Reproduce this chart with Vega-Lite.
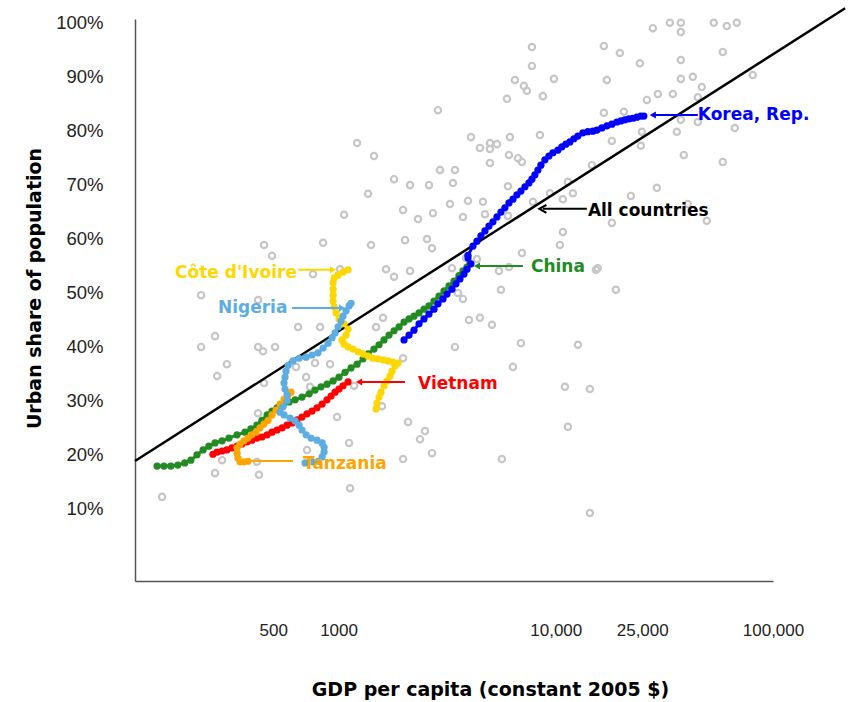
{
  "$schema": "https://vega.github.io/schema/vega-lite/v6.json",
  "width": 638,
  "height": 562,
  "autosize": {"type": "none"},
  "padding": {"left": 135, "top": 19, "right": 79, "bottom": 121},
  "background": "white",
  "config": {"view": {"stroke": null}, "font": "Liberation Sans"},
  "datasets": {
    "others": [
      {"gdp":33500,"urban":100},{"gdp":37640,"urban":100},{"gdp":27980,"urban":99.0},{"gdp":37640,"urban":98.3},
      {"gdp":53380,"urban":100},{"gdp":61270,"urban":99.4},{"gdp":68110,"urban":100},{"gdp":16650,"urban":95.7},
      {"gdp":7766,"urban":95.5},{"gdp":19724,"urban":94.4},{"gdp":58720,"urban":94.6},{"gdp":37640,"urban":93.1},
      {"gdp":24378,"urban":92.5},{"gdp":7766,"urban":92.0},{"gdp":80690,"urban":90.3},{"gdp":37640,"urban":89.6},
      {"gdp":42740,"urban":90.0},{"gdp":17190,"urban":89.4},{"gdp":9804,"urban":89.6},{"gdp":6486,"urban":89.4},
      {"gdp":7135,"urban":88.3},{"gdp":7366,"urban":87.4},{"gdp":8725,"urban":86.4},{"gdp":5959,"urban":85.9},
      {"gdp":47010,"urban":88.1},{"gdp":29500,"urban":86.8},{"gdp":34580,"urban":86.8},{"gdp":26255,"urban":85.7},
      {"gdp":45060,"urban":86.2},{"gdp":16650,"urban":83.3},{"gdp":20580,"urban":83.5},{"gdp":37640,"urban":82.0},
      {"gdp":45060,"urban":81.6},{"gdp":66680,"urban":80.5},{"gdp":24900,"urban":79.8},{"gdp":36080,"urban":79.8},
      {"gdp":8452,"urban":79.2},{"gdp":6151,"urban":78.8},{"gdp":4070,"urban":78.8},{"gdp":18120,"urban":78.1},
      {"gdp":24640,"urban":77.2},{"gdp":4477,"urban":76.8},{"gdp":4977,"urban":77.7},{"gdp":5360,"urban":77.5},
      {"gdp":4977,"urban":76.6},{"gdp":6087,"urban":75.5},{"gdp":6695,"urban":74.9},{"gdp":6985,"urban":74.2},
      {"gdp":4977,"urban":74.0},{"gdp":38850,"urban":75.5},{"gdp":58720,"urban":74.2},{"gdp":14660,"urban":73.6},
      {"gdp":3435,"urban":72.7},{"gdp":3363,"urban":70.3},{"gdp":6023,"urban":69.7},{"gdp":11370,"urban":70.5},
      {"gdp":11990,"urban":68.4},{"gdp":29190,"urban":69.4},{"gdp":22160,"urban":67.9},{"gdp":9397,"urban":68.4},
      {"gdp":3943,"urban":67.0},{"gdp":4622,"urban":66.8},{"gdp":7849,"urban":66.8},{"gdp":10785,"urban":67.3},
      {"gdp":3258,"urban":66.4},{"gdp":3739,"urban":64.0},{"gdp":4721,"urban":64.5},{"gdp":40535,"urban":66.4},
      {"gdp":49570,"urban":63.3},{"gdp":18120,"urban":62.9},{"gdp":10785,"urban":61.2},{"gdp":10447,"urban":58.8},
      {"gdp":2869,"urban":83.8},{"gdp":1217,"urban":77.7},{"gdp":1456,"urban":75.3},{"gdp":2931,"urban":72.7},
      {"gdp":1801,"urban":71.0},{"gdp":2133,"urban":69.9},{"gdp":2608,"urban":69.9},{"gdp":1367,"urban":68.3},
      {"gdp":1060,"urban":64.4},{"gdp":1981,"urban":65.3},{"gdp":2322,"urban":63.6},{"gdp":2721,"urban":64.7},
      {"gdp":6023,"urban":64.2},{"gdp":454,"urban":58.8},{"gdp":849,"urban":59.2},{"gdp":1411,"urban":58.8},
      {"gdp":2023,"urban":59.7},{"gdp":2554,"urban":59.9},{"gdp":2692,"urban":58.2},{"gdp":494,"urban":56.8},
      {"gdp":6985,"urban":57.3},{"gdp":1654,"urban":54.3},{"gdp":1801,"urban":52.9},{"gdp":2133,"urban":54.0},
      {"gdp":3328,"urban":54.5},{"gdp":5475,"urban":54.0},{"gdp":6087,"urban":54.7},{"gdp":3860,"urban":56.4},
      {"gdp":4337,"urban":56.2},{"gdp":15298,"urban":54.2},{"gdp":15600,"urban":54.5},{"gdp":18908,"urban":50.5},
      {"gdp":5592,"urban":50.5},{"gdp":3546,"urban":49.9},{"gdp":3739,"urban":48.8},{"gdp":3985,"urban":44.9},
      {"gdp":4477,"urban":45.3},{"gdp":5083,"urban":44.0},{"gdp":3435,"urban":39.9},{"gdp":6912,"urban":40.6},
      {"gdp":12642,"urban":40.3},{"gdp":6350,"urban":36.2},{"gdp":11015,"urban":32.5},{"gdp":14355,"urban":32.1},
      {"gdp":11370,"urban":25.1},{"gdp":5651,"urban":19.1},{"gdp":14355,"urban":9.1},{"gdp":233,"urban":49.5},
      {"gdp":763,"urban":53.4},{"gdp":1016,"urban":54.3},{"gdp":651,"urban":43.6},{"gdp":822,"urban":43.6},
      {"gdp":1488,"urban":43.6},{"gdp":1602,"urban":45.3},{"gdp":270,"urban":41.9},{"gdp":233,"urban":39.9},
      {"gdp":306,"urban":36.7},{"gdp":276,"urban":34.5},{"gdp":426,"urban":39.9},{"gdp":449,"urban":39.1},
      {"gdp":510,"urban":39.9},{"gdp":779,"urban":36.9},{"gdp":914,"urban":36.7},{"gdp":1981,"urban":37.8},
      {"gdp":454,"urban":33.2},{"gdp":637,"urban":36.2},{"gdp":709,"urban":34.3},{"gdp":739,"urban":32.5},
      {"gdp":984,"urban":26.9},{"gdp":2089,"urban":26.0},{"gdp":2500,"urban":24.3},{"gdp":2371,"urban":22.8},
      {"gdp":2692,"urban":20.2},{"gdp":1118,"urban":22.1},{"gdp":1981,"urban":19.1},{"gdp":426,"urban":27.6},
      {"gdp":444,"urban":26.0},{"gdp":291,"urban":18.9},{"gdp":270,"urban":16.5},{"gdp":430,"urban":16.2},
      {"gdp":421,"urban":18.6},{"gdp":1130,"urban":13.7},{"gdp":716,"urban":20.8},{"gdp":154,"urban":12.1},
      {"gdp":1585,"urban":28.9},{"gdp":1179,"urban":32.7},{"gdp":426,"urban":48.6}
    ],
    "fit": [
      {"gdp":115.6,"urban":18.75},{"gdp":214800,"urban":102.7}
    ],
    "series": [
      {"country":"China","t":1,"gdp":146,"urban":17.8},{"country":"China","t":2,"gdp":157,"urban":17.8},
      {"country":"China","t":3,"gdp":169,"urban":17.8},{"country":"China","t":4,"gdp":182,"urban":18.0},
      {"country":"China","t":5,"gdp":196,"urban":18.4},{"country":"China","t":6,"gdp":209,"urban":18.9},
      {"country":"China","t":7,"gdp":223,"urban":19.9},{"country":"China","t":8,"gdp":238,"urban":20.8},
      {"country":"China","t":9,"gdp":253,"urban":21.5},{"country":"China","t":10,"gdp":270,"urban":22.1},
      {"country":"China","t":11,"gdp":291,"urban":22.5},{"country":"China","t":12,"gdp":313,"urban":23.0},
      {"country":"China","t":13,"gdp":341,"urban":23.6},{"country":"China","t":14,"gdp":371,"urban":24.1},
      {"country":"China","t":15,"gdp":395,"urban":24.7},{"country":"China","t":16,"gdp":421,"urban":25.4},
      {"country":"China","t":17,"gdp":444,"urban":26.3},{"country":"China","t":18,"gdp":469,"urban":27.3},
      {"country":"China","t":19,"gdp":494,"urban":28.0},{"country":"China","t":20,"gdp":521,"urban":28.6},
      {"country":"China","t":21,"gdp":555,"urban":29.1},{"country":"China","t":22,"gdp":592,"urban":29.7},
      {"country":"China","t":23,"gdp":631,"urban":30.1},{"country":"China","t":24,"gdp":679,"urban":30.6},
      {"country":"China","t":25,"gdp":732,"urban":31.2},{"country":"China","t":26,"gdp":779,"urban":31.9},
      {"country":"China","t":27,"gdp":831,"urban":32.5},{"country":"China","t":28,"gdp":885,"urban":33.0},
      {"country":"China","t":29,"gdp":944,"urban":33.6},{"country":"China","t":30,"gdp":1005,"urban":34.3},
      {"country":"China","t":31,"gdp":1071,"urban":35.2},{"country":"China","t":32,"gdp":1142,"urban":36.0},
      {"country":"China","t":33,"gdp":1217,"urban":36.7},{"country":"China","t":34,"gdp":1297,"urban":37.7},
      {"country":"China","t":35,"gdp":1367,"urban":38.6},{"country":"China","t":36,"gdp":1456,"urban":39.5},
      {"country":"China","t":37,"gdp":1536,"urban":40.3},{"country":"China","t":38,"gdp":1619,"urban":41.2},
      {"country":"China","t":39,"gdp":1707,"urban":42.1},{"country":"China","t":40,"gdp":1801,"urban":42.9},
      {"country":"China","t":41,"gdp":1899,"urban":43.6},{"country":"China","t":42,"gdp":2002,"urban":44.5},
      {"country":"China","t":43,"gdp":2111,"urban":45.1},{"country":"China","t":44,"gdp":2225,"urban":45.6},
      {"country":"China","t":45,"gdp":2347,"urban":46.2},{"country":"China","t":46,"gdp":2474,"urban":46.9},
      {"country":"China","t":47,"gdp":2608,"urban":47.5},{"country":"China","t":48,"gdp":2750,"urban":48.4},
      {"country":"China","t":49,"gdp":2900,"urban":49.3},{"country":"China","t":50,"gdp":3058,"urban":50.3},
      {"country":"China","t":51,"gdp":3224,"urban":51.2},{"country":"China","t":52,"gdp":3399,"urban":52.1},
      {"country":"China","t":53,"gdp":3584,"urban":53.1},{"country":"China","t":54,"gdp":3739,"urban":54.0},
      {"country":"China","t":55,"gdp":3901,"urban":54.7},{"country":"China","t":56,"gdp":4027,"urban":55.3},

      {"country":"Korea, Rep.","t":1,"gdp":2002,"urban":41.2},{"country":"Korea, Rep.","t":2,"gdp":2111,"urban":42.1},
      {"country":"Korea, Rep.","t":3,"gdp":2225,"urban":43.0},{"country":"Korea, Rep.","t":4,"gdp":2347,"urban":44.2},
      {"country":"Korea, Rep.","t":5,"gdp":2474,"urban":45.1},{"country":"Korea, Rep.","t":6,"gdp":2608,"urban":46.0},
      {"country":"Korea, Rep.","t":7,"gdp":2750,"urban":46.9},{"country":"Korea, Rep.","t":8,"gdp":2869,"urban":47.9},
      {"country":"Korea, Rep.","t":9,"gdp":3026,"urban":48.8},{"country":"Korea, Rep.","t":10,"gdp":3157,"urban":49.7},
      {"country":"Korea, Rep.","t":11,"gdp":3328,"urban":50.6},{"country":"Korea, Rep.","t":12,"gdp":3472,"urban":51.6},
      {"country":"Korea, Rep.","t":13,"gdp":3622,"urban":52.5},{"country":"Korea, Rep.","t":14,"gdp":3779,"urban":53.4},
      {"country":"Korea, Rep.","t":15,"gdp":3901,"urban":54.3},{"country":"Korea, Rep.","t":16,"gdp":4070,"urban":55.3},
      {"country":"Korea, Rep.","t":17,"gdp":3943,"urban":56.4},{"country":"Korea, Rep.","t":18,"gdp":3943,"urban":56.9},
      {"country":"Korea, Rep.","t":19,"gdp":4157,"urban":58.6},{"country":"Korea, Rep.","t":20,"gdp":4337,"urban":59.5},
      {"country":"Korea, Rep.","t":21,"gdp":4525,"urban":60.5},{"country":"Korea, Rep.","t":22,"gdp":4721,"urban":61.4},
      {"country":"Korea, Rep.","t":23,"gdp":4925,"urban":62.3},{"country":"Korea, Rep.","t":24,"gdp":5138,"urban":63.1},
      {"country":"Korea, Rep.","t":25,"gdp":5360,"urban":64.0},{"country":"Korea, Rep.","t":26,"gdp":5592,"urban":64.9},
      {"country":"Korea, Rep.","t":27,"gdp":5834,"urban":65.7},{"country":"Korea, Rep.","t":28,"gdp":6087,"urban":66.6},
      {"country":"Korea, Rep.","t":29,"gdp":6350,"urban":67.3},{"country":"Korea, Rep.","t":30,"gdp":6625,"urban":68.1},
      {"country":"Korea, Rep.","t":31,"gdp":6912,"urban":68.8},{"country":"Korea, Rep.","t":32,"gdp":7211,"urban":69.6},
      {"country":"Korea, Rep.","t":33,"gdp":7524,"urban":70.3},{"country":"Korea, Rep.","t":34,"gdp":7766,"urban":71.0},
      {"country":"Korea, Rep.","t":35,"gdp":8017,"urban":71.8},{"country":"Korea, Rep.","t":36,"gdp":8276,"urban":72.7},
      {"country":"Korea, Rep.","t":37,"gdp":8542,"urban":73.6},{"country":"Korea, Rep.","t":38,"gdp":8912,"urban":74.6},
      {"country":"Korea, Rep.","t":39,"gdp":9298,"urban":75.3},{"country":"Korea, Rep.","t":40,"gdp":9701,"urban":75.9},
      {"country":"Korea, Rep.","t":41,"gdp":10229,"urban":76.4},{"country":"Korea, Rep.","t":42,"gdp":10671,"urban":77.0},
      {"country":"Korea, Rep.","t":43,"gdp":11133,"urban":77.5},{"country":"Korea, Rep.","t":44,"gdp":11614,"urban":77.9},
      {"country":"Korea, Rep.","t":45,"gdp":12117,"urban":78.5},{"country":"Korea, Rep.","t":46,"gdp":12642,"urban":79.0},
      {"country":"Korea, Rep.","t":47,"gdp":13329,"urban":79.6},{"country":"Korea, Rep.","t":48,"gdp":14055,"urban":79.8},
      {"country":"Korea, Rep.","t":49,"gdp":14818,"urban":79.9},{"country":"Korea, Rep.","t":50,"gdp":15460,"urban":80.1},
      {"country":"Korea, Rep.","t":51,"gdp":16300,"urban":80.5},{"country":"Korea, Rep.","t":52,"gdp":17190,"urban":80.9},
      {"country":"Korea, Rep.","t":53,"gdp":18120,"urban":81.2},{"country":"Korea, Rep.","t":54,"gdp":19108,"urban":81.6},
      {"country":"Korea, Rep.","t":55,"gdp":19935,"urban":81.8},{"country":"Korea, Rep.","t":56,"gdp":20797,"urban":82.0},
      {"country":"Korea, Rep.","t":57,"gdp":21698,"urban":82.2},{"country":"Korea, Rep.","t":58,"gdp":22636,"urban":82.3},
      {"country":"Korea, Rep.","t":59,"gdp":23616,"urban":82.5},{"country":"Korea, Rep.","t":60,"gdp":24640,"urban":82.7},
      {"country":"Korea, Rep.","t":61,"gdp":25434,"urban":82.7},

      {"country":"Vietnam","t":1,"gdp":264,"urban":20.0},{"country":"Vietnam","t":2,"gdp":276,"urban":20.4},
      {"country":"Vietnam","t":3,"gdp":291,"urban":20.6},{"country":"Vietnam","t":4,"gdp":306,"urban":20.8},
      {"country":"Vietnam","t":5,"gdp":323,"urban":21.2},{"country":"Vietnam","t":6,"gdp":341,"urban":21.5},
      {"country":"Vietnam","t":7,"gdp":359,"urban":21.9},{"country":"Vietnam","t":8,"gdp":379,"urban":22.3},
      {"country":"Vietnam","t":9,"gdp":399,"urban":22.6},{"country":"Vietnam","t":10,"gdp":421,"urban":23.0},
      {"country":"Vietnam","t":11,"gdp":444,"urban":23.2},{"country":"Vietnam","t":12,"gdp":469,"urban":23.6},
      {"country":"Vietnam","t":13,"gdp":494,"urban":24.1},{"country":"Vietnam","t":14,"gdp":521,"urban":24.5},
      {"country":"Vietnam","t":15,"gdp":550,"urban":24.9},{"country":"Vietnam","t":16,"gdp":579,"urban":25.4},
      {"country":"Vietnam","t":17,"gdp":611,"urban":25.8},{"country":"Vietnam","t":18,"gdp":644,"urban":26.4},
      {"country":"Vietnam","t":19,"gdp":679,"urban":26.9},{"country":"Vietnam","t":20,"gdp":716,"urban":27.5},
      {"country":"Vietnam","t":21,"gdp":755,"urban":28.0},{"country":"Vietnam","t":22,"gdp":796,"urban":28.6},
      {"country":"Vietnam","t":23,"gdp":840,"urban":29.3},{"country":"Vietnam","t":24,"gdp":885,"urban":30.1},
      {"country":"Vietnam","t":25,"gdp":924,"urban":30.8},{"country":"Vietnam","t":26,"gdp":964,"urban":31.5},
      {"country":"Vietnam","t":27,"gdp":1005,"urban":32.1},{"country":"Vietnam","t":28,"gdp":1049,"urban":32.7},
      {"country":"Vietnam","t":29,"gdp":1106,"urban":33.4},

      {"country":"Tanzania","t":1,"gdp":383,"urban":18.7},{"country":"Tanzania","t":2,"gdp":367,"urban":18.6},
      {"country":"Tanzania","t":3,"gdp":352,"urban":18.6},{"country":"Tanzania","t":4,"gdp":344,"urban":19.3},
      {"country":"Tanzania","t":5,"gdp":341,"urban":20.2},{"country":"Tanzania","t":6,"gdp":341,"urban":21.2},
      {"country":"Tanzania","t":7,"gdp":352,"urban":21.9},{"country":"Tanzania","t":8,"gdp":367,"urban":22.5},
      {"country":"Tanzania","t":9,"gdp":383,"urban":23.0},{"country":"Tanzania","t":10,"gdp":399,"urban":23.6},
      {"country":"Tanzania","t":11,"gdp":417,"urban":24.1},{"country":"Tanzania","t":12,"gdp":435,"urban":24.9},
      {"country":"Tanzania","t":13,"gdp":454,"urban":25.6},{"country":"Tanzania","t":14,"gdp":474,"urban":26.3},
      {"country":"Tanzania","t":15,"gdp":494,"urban":27.3},{"country":"Tanzania","t":16,"gdp":516,"urban":28.2},
      {"country":"Tanzania","t":17,"gdp":538,"urban":29.3},{"country":"Tanzania","t":18,"gdp":561,"urban":30.2},
      {"country":"Tanzania","t":19,"gdp":586,"urban":31.0},{"country":"Tanzania","t":20,"gdp":604,"urban":31.5},

      {"country":"Côte d'Ivoire","t":1,"gdp":1488,"urban":28.4},{"country":"Côte d'Ivoire","t":2,"gdp":1503,"urban":29.5},
      {"country":"Côte d'Ivoire","t":3,"gdp":1536,"urban":30.6},{"country":"Côte d'Ivoire","t":4,"gdp":1569,"urban":31.5},
      {"country":"Côte d'Ivoire","t":5,"gdp":1619,"urban":32.7},{"country":"Côte d'Ivoire","t":6,"gdp":1672,"urban":33.6},
      {"country":"Côte d'Ivoire","t":7,"gdp":1726,"urban":34.5},{"country":"Côte d'Ivoire","t":8,"gdp":1763,"urban":35.4},
      {"country":"Côte d'Ivoire","t":9,"gdp":1820,"urban":36.4},{"country":"Côte d'Ivoire","t":10,"gdp":1879,"urban":36.9},
      {"country":"Côte d'Ivoire","t":11,"gdp":1782,"urban":37.1},{"country":"Côte d'Ivoire","t":12,"gdp":1689,"urban":37.3},
      {"country":"Côte d'Ivoire","t":13,"gdp":1602,"urban":37.5},{"country":"Côte d'Ivoire","t":14,"gdp":1520,"urban":37.7},
      {"country":"Côte d'Ivoire","t":15,"gdp":1441,"urban":37.8},{"country":"Côte d'Ivoire","t":16,"gdp":1367,"urban":38.2},
      {"country":"Côte d'Ivoire","t":17,"gdp":1297,"urban":38.6},{"country":"Côte d'Ivoire","t":18,"gdp":1230,"urban":39.0},
      {"country":"Côte d'Ivoire","t":19,"gdp":1166,"urban":39.5},{"country":"Côte d'Ivoire","t":20,"gdp":1106,"urban":39.9},
      {"country":"Côte d'Ivoire","t":21,"gdp":1060,"urban":40.4},{"country":"Côte d'Ivoire","t":22,"gdp":1038,"urban":41.2},
      {"country":"Côte d'Ivoire","t":23,"gdp":1083,"urban":42.1},{"country":"Côte d'Ivoire","t":24,"gdp":1106,"urban":43.2},
      {"country":"Côte d'Ivoire","t":25,"gdp":1060,"urban":44.2},{"country":"Côte d'Ivoire","t":26,"gdp":1005,"urban":45.1},
      {"country":"Côte d'Ivoire","t":27,"gdp":974,"urban":46.2},{"country":"Côte d'Ivoire","t":28,"gdp":954,"urban":47.3},
      {"country":"Côte d'Ivoire","t":29,"gdp":944,"urban":48.4},{"country":"Côte d'Ivoire","t":30,"gdp":944,"urban":49.5},
      {"country":"Côte d'Ivoire","t":31,"gdp":944,"urban":50.6},{"country":"Côte d'Ivoire","t":32,"gdp":944,"urban":51.8},
      {"country":"Côte d'Ivoire","t":33,"gdp":954,"urban":52.7},{"country":"Côte d'Ivoire","t":34,"gdp":995,"urban":53.2},
      {"country":"Côte d'Ivoire","t":35,"gdp":1049,"urban":53.8},{"country":"Côte d'Ivoire","t":36,"gdp":1106,"urban":54.2},

      {"country":"Nigeria","t":1,"gdp":701,"urban":18.4},{"country":"Nigeria","t":2,"gdp":755,"urban":18.6},
      {"country":"Nigeria","t":3,"gdp":804,"urban":18.7},{"country":"Nigeria","t":4,"gdp":840,"urban":19.5},
      {"country":"Nigeria","t":5,"gdp":858,"urban":20.4},{"country":"Nigeria","t":6,"gdp":858,"urban":21.3},
      {"country":"Nigeria","t":7,"gdp":840,"urban":22.1},{"country":"Nigeria","t":8,"gdp":796,"urban":22.6},
      {"country":"Nigeria","t":9,"gdp":747,"urban":23.0},{"country":"Nigeria","t":10,"gdp":709,"urban":23.6},
      {"country":"Nigeria","t":11,"gdp":679,"urban":24.5},{"country":"Nigeria","t":12,"gdp":658,"urban":25.4},
      {"country":"Nigeria","t":13,"gdp":631,"urban":26.2},{"country":"Nigeria","t":14,"gdp":598,"urban":26.7},
      {"country":"Nigeria","t":15,"gdp":561,"urban":27.3},{"country":"Nigeria","t":16,"gdp":538,"urban":27.8},
      {"country":"Nigeria","t":17,"gdp":555,"urban":28.8},{"country":"Nigeria","t":18,"gdp":579,"urban":29.9},
      {"country":"Nigeria","t":19,"gdp":579,"urban":31.0},{"country":"Nigeria","t":20,"gdp":567,"urban":32.1},
      {"country":"Nigeria","t":21,"gdp":561,"urban":33.2},{"country":"Nigeria","t":22,"gdp":567,"urban":34.3},
      {"country":"Nigeria","t":23,"gdp":573,"urban":35.4},{"country":"Nigeria","t":24,"gdp":586,"urban":36.5},
      {"country":"Nigeria","t":25,"gdp":617,"urban":37.3},{"country":"Nigeria","t":26,"gdp":658,"urban":37.8},
      {"country":"Nigeria","t":27,"gdp":709,"urban":38.0},{"country":"Nigeria","t":28,"gdp":755,"urban":38.4},
      {"country":"Nigeria","t":29,"gdp":804,"urban":38.8},{"country":"Nigeria","t":30,"gdp":849,"urban":39.7},
      {"country":"Nigeria","t":31,"gdp":895,"urban":40.6},{"country":"Nigeria","t":32,"gdp":934,"urban":41.6},
      {"country":"Nigeria","t":33,"gdp":964,"urban":42.5},{"country":"Nigeria","t":34,"gdp":995,"urban":43.6},
      {"country":"Nigeria","t":35,"gdp":1027,"urban":44.7},{"country":"Nigeria","t":36,"gdp":1049,"urban":45.6},
      {"country":"Nigeria","t":37,"gdp":1083,"urban":46.6},{"country":"Nigeria","t":38,"gdp":1118,"urban":47.5},
      {"country":"Nigeria","t":39,"gdp":1142,"urban":48.0}
    ],
    "labels": [
      {"name":"Korea, Rep.","text_gdp":45060,"text_urban":82.9,"lead_from":27980,"lead_to":45060,"lead_urban":82.9,"arrow_gdp":27980,"arrow_dir":"left"},
      {"name":"All countries","text_gdp":14055,"text_urban":65.1,"lead_from":8725,"lead_to":13906,"lead_urban":65.5,"arrow_gdp":8725,"arrow_dir":"left"},
      {"name":"China","text_gdp":7684,"text_urban":54.7,"lead_from":4337,"lead_to":7060,"lead_urban":54.9,"arrow_gdp":4337,"arrow_dir":"left"},
      {"name":"Vietnam","text_gdp":2322,"text_urban":33.0,"lead_from":1243,"lead_to":2023,"lead_urban":33.4,"arrow_gdp":1243,"arrow_dir":"left"},
      {"name":"Tanzania","text_gdp":686,"text_urban":18.2,"lead_from":379,"lead_to":617,"lead_urban":18.75,"arrow_gdp":379,"arrow_dir":"left"},
      {"name":"Nigeria","text_gdp":278.5,"text_urban":47.1,"lead_from":611,"lead_to":1038,"lead_urban":47.1,"arrow_gdp":1038,"arrow_dir":"right"},
      {"name":"Côte d'Ivoire","text_gdp":176.6,"text_urban":53.6,"lead_from":651,"lead_to":943,"lead_urban":54.2,"arrow_gdp":943,"arrow_dir":"right"}
    ]
  },
  "layer": [
    {
      "data": {"name": "others"},
      "mark": {"type": "point", "shape": "circle", "filled": false, "stroke": "#c6c6c6", "strokeWidth": 2.2, "size": 40, "opacity": 1},
      "encoding": {
        "x": {
          "field": "gdp", "type": "quantitative",
          "scale": {"type": "log", "domain": [115.6, 100000], "nice": false},
          "axis": {
            "title": "GDP per capita (constant 2005 $)",
            "values": [500, 1000, 10000, 25000, 100000],
            "labelExpr": "datum.value >= 10000 ? format(datum.value, ',') : format(datum.value, 'd')",
            "grid": false, "ticks": false, "tickSize": 0,
            "domainColor": "#555555", "domainWidth": 1.5,
            "labelPadding": 41, "labelFontSize": 17, "labelColor": "#222222", "labelFont": "Liberation Sans",
            "labelFlush": false, "labelOverlap": false,
            "titleFont": "DejaVu Sans", "titleFontSize": 19, "titleFontWeight": "bold", "titleColor": "#000000",
            "titleX": 355, "titleY": 108, "titleBaseline": "middle", "titleAlign": "center"
          }
        },
        "y": {
          "field": "urban", "type": "quantitative",
          "scale": {"domain": [-3.5, 100.7], "nice": false, "zero": false},
          "axis": {
            "title": "Urban share of population",
            "values": [10, 20, 30, 40, 50, 60, 70, 80, 90, 100],
            "labelExpr": "datum.value + '%'",
            "grid": false, "ticks": false, "tickSize": 0,
            "domainColor": "#555555", "domainWidth": 1.5,
            "labelPadding": 32, "labelFontSize": 18.5, "labelColor": "#222222", "labelFont": "Liberation Sans",
            "labelFlush": false, "labelOverlap": false,
            "titleFont": "DejaVu Sans", "titleFontSize": 19, "titleFontWeight": "bold", "titleColor": "#000000",
            "titleX": -101, "titleY": 269, "titleAngle": -90, "titleBaseline": "middle", "titleAlign": "center"
          }
        }
      }
    },
    {
      "data": {"name": "fit"},
      "mark": {"type": "line", "color": "#000000", "strokeWidth": 2.5, "clip": false},
      "encoding": {
        "x": {"field": "gdp", "type": "quantitative"},
        "y": {"field": "urban", "type": "quantitative"}
      }
    },
    {
      "data": {"name": "series"},
      "mark": {"type": "line", "strokeWidth": 3},
      "encoding": {
        "x": {"field": "gdp", "type": "quantitative"},
        "y": {"field": "urban", "type": "quantitative"},
        "color": {
          "field": "country", "type": "nominal", "legend": null,
          "scale": {
            "domain": ["China", "Korea, Rep.", "Vietnam", "Tanzania", "Côte d'Ivoire", "Nigeria", "All countries"],
            "range": ["#228B22", "#0000FF", "#FF0000", "#FFA500", "#FFD700", "#5DADE2", "#000000"]
          }
        },
        "order": {"field": "t", "type": "quantitative"}
      }
    },
    {
      "data": {"name": "series"},
      "mark": {"type": "point", "filled": true, "size": 52, "opacity": 1},
      "encoding": {
        "x": {"field": "gdp", "type": "quantitative"},
        "y": {"field": "urban", "type": "quantitative"},
        "color": {"field": "country", "type": "nominal", "legend": null}
      }
    },
    {
      "data": {"name": "labels"},
      "mark": {"type": "rule", "strokeWidth": 2},
      "encoding": {
        "x": {"field": "lead_from", "type": "quantitative"},
        "x2": {"field": "lead_to"},
        "y": {"field": "lead_urban", "type": "quantitative"},
        "color": {"field": "name", "type": "nominal", "legend": null}
      }
    },
    {
      "data": {"name": "labels"},
      "transform": [{"filter": "datum.name !== 'All countries'"}],
      "mark": {"type": "point", "filled": true, "size": 50, "opacity": 1},
      "encoding": {
        "x": {"field": "arrow_gdp", "type": "quantitative"},
        "y": {"field": "lead_urban", "type": "quantitative"},
        "shape": {"field": "arrow_dir", "type": "nominal", "legend": null, "scale": {"domain": ["left", "right"], "range": ["triangle-left", "triangle-right"]}},
        "color": {"field": "name", "type": "nominal", "legend": null}
      }
    },
    {
      "data": {"name": "labels"},
      "transform": [{"filter": "datum.name === 'All countries'"}],
      "mark": {"type": "point", "filled": false, "shape": "M0.7,-0.8L-0.7,0L0.7,0.8", "size": 100, "strokeWidth": 2.2, "opacity": 1, "color": "#000000"},
      "encoding": {
        "x": {"field": "arrow_gdp", "type": "quantitative"},
        "y": {"field": "lead_urban", "type": "quantitative"}
      }
    },
    {
      "data": {"name": "labels"},
      "mark": {"type": "text", "align": "left", "baseline": "middle", "font": "DejaVu Sans", "fontWeight": "bold", "fontSize": 17},
      "encoding": {
        "x": {"field": "text_gdp", "type": "quantitative"},
        "y": {"field": "text_urban", "type": "quantitative"},
        "text": {"field": "name"},
        "color": {"field": "name", "type": "nominal", "legend": null}
      }
    }
  ]
}
